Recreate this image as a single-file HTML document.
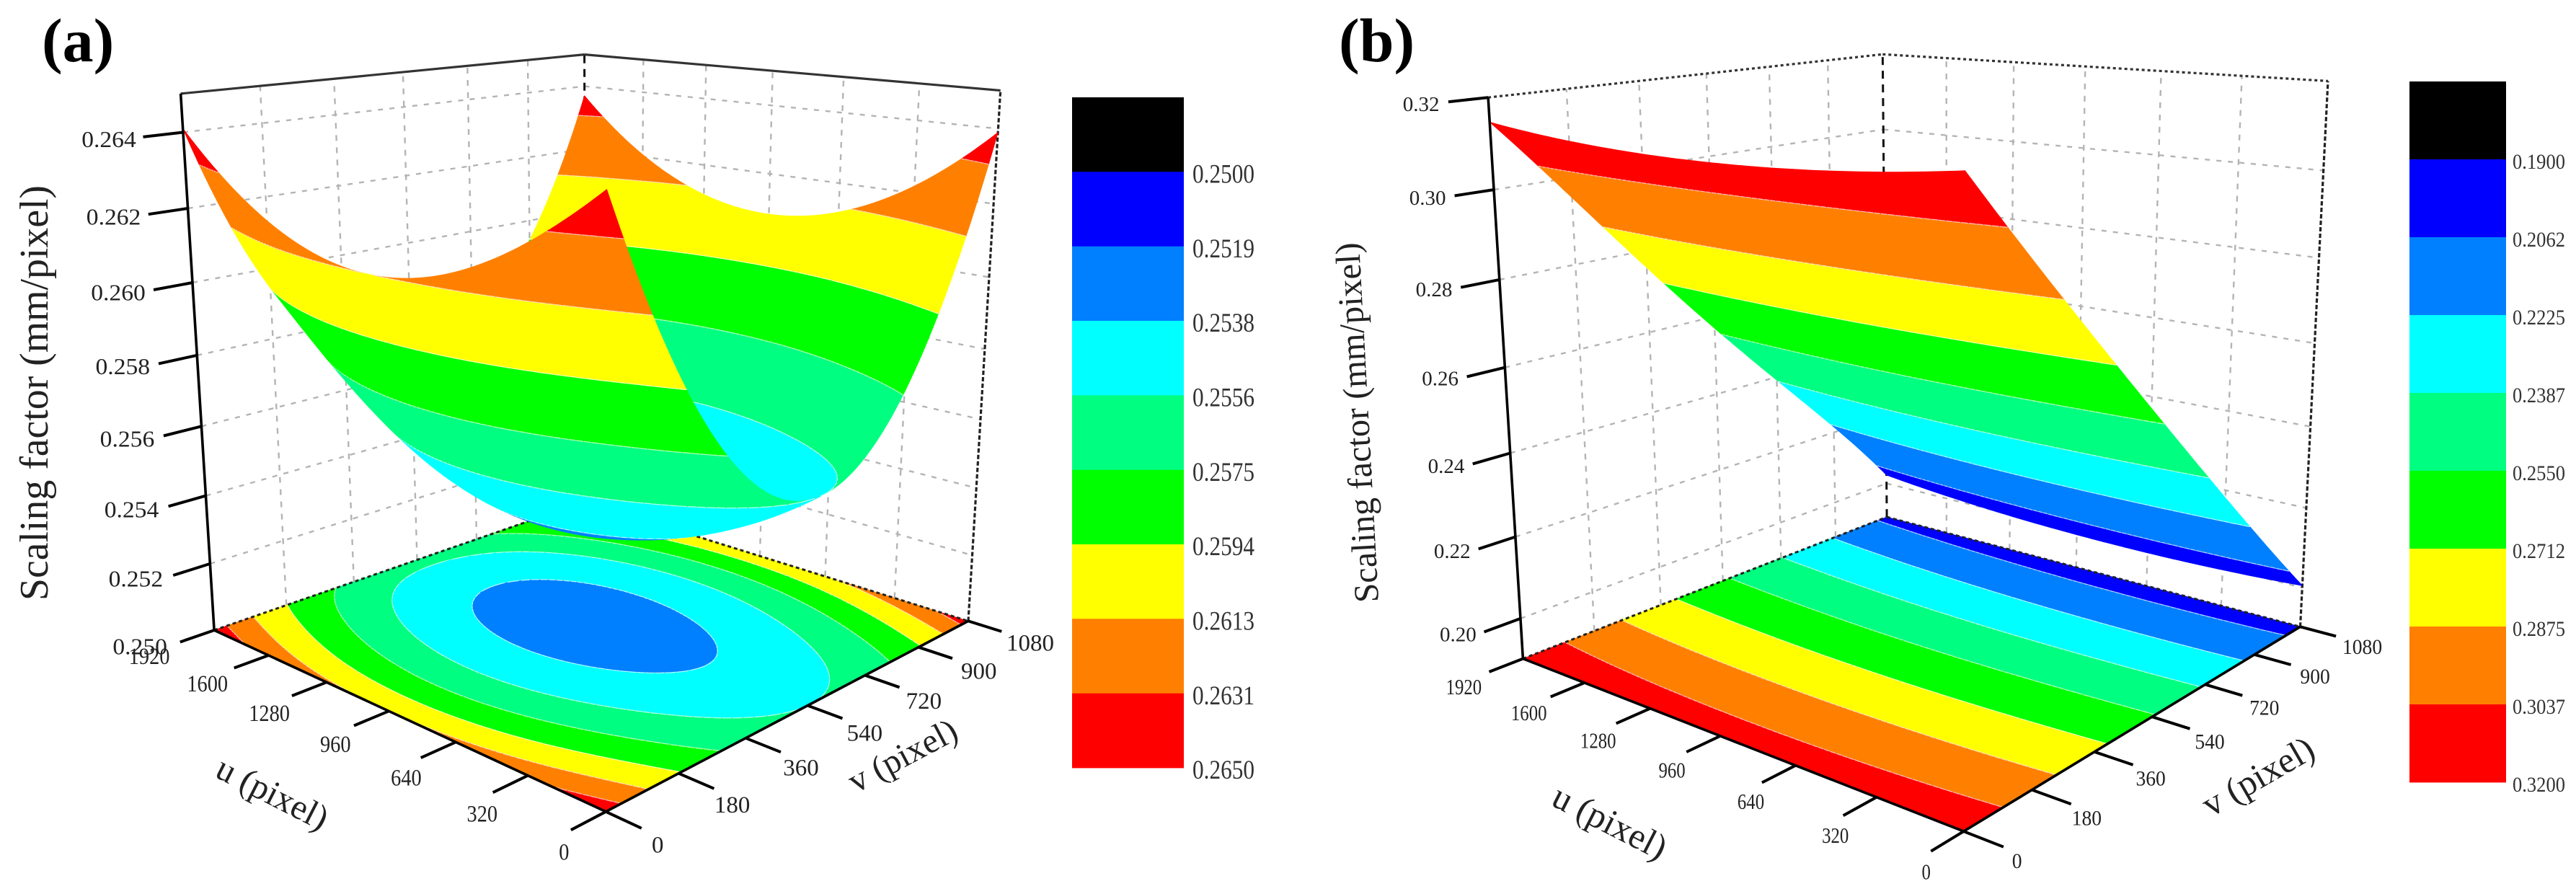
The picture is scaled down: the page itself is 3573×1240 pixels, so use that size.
<!DOCTYPE html>
<html lang="en">
<head>
<meta charset="utf-8">
<title>Scaling factor surfaces (a) and (b)</title>
<style>
html,body{margin:0;padding:0;background:#fff;}
svg{display:block;}
text{font-family:"Liberation Serif",serif;fill:#222;}
</style>
</head>
<body>
<svg id="figure" xmlns="http://www.w3.org/2000/svg" width="3573" height="1240" viewBox="0 0 3573 1240"></svg>
<script>
// ---- Chart data ----
const uTicks = [0, 320, 640, 960, 1280, 1600, 1920];
const vTicks = [0, 180, 360, 540, 720, 900, 1080];
const uNodes = [0, 480, 960, 1440, 1920];
const vNodes = [0, 270, 540, 810, 1080];

// Panel (a): scaling factor at each (u node, v node)
const surfaceA_u0    = [0.26420, 0.25786, 0.25560, 0.25761, 0.26390];
const surfaceA_u480  = [0.26212, 0.25580, 0.25370, 0.25560, 0.26160];
const surfaceA_u960  = [0.26130, 0.25490, 0.25300, 0.25480, 0.26080];
const surfaceA_u1440 = [0.26197, 0.25565, 0.25360, 0.25550, 0.26150];
const surfaceA_u1920 = [0.26410, 0.25800, 0.25630, 0.25800, 0.26370];
const zTicksA = [0.250, 0.252, 0.254, 0.256, 0.258, 0.260, 0.262, 0.264];
const levelsA = [0.2500, 0.2519, 0.2538, 0.2556, 0.2575, 0.2594, 0.2613, 0.2631, 0.2650];

// Panel (b): scaling factor at each (u node, v node)
const surfaceB_u0    = [0.3153, 0.2852, 0.2562, 0.2278, 0.2005];
const surfaceB_u480  = [0.3125, 0.2831, 0.2545, 0.2265, 0.1991];
const surfaceB_u960  = [0.3115, 0.2825, 0.2540, 0.2265, 0.1990];
const surfaceB_u1440 = [0.3122, 0.2833, 0.2549, 0.2278, 0.2001];
const surfaceB_u1920 = [0.3147, 0.2856, 0.2570, 0.2304, 0.2025];
const zTicksB = [0.20, 0.22, 0.24, 0.26, 0.28, 0.30, 0.32];
const levelsB = [0.1900, 0.2062, 0.2225, 0.2387, 0.2550, 0.2712, 0.2875, 0.3037, 0.3200];

const bandColors = ['#000000', '#0000ff', '#0080ff', '#00ffff', '#00ff80', '#00ff00', '#ffff00', '#ff8000', '#ff0000'];

// ---- Helpers ----
const NS = 'http://www.w3.org/2000/svg';
const root = document.getElementById('figure');

function mk(tag, attrs, parent) {
  const e = document.createElementNS(NS, tag);
  for (const k in attrs) e.setAttribute(k, attrs[k]);
  parent.appendChild(e);
  return e;
}

function makeText(parent, str, x, y, size, o) {
  o = o || {};
  const sx = o.sx || 1, sy = o.sy || 1, rot = o.rot || 0;
  const t = mk('text', {
    transform: 'translate(' + x + ',' + y + ') rotate(' + rot + ') scale(' + sx + ',' + sy + ')',
    'font-size': size,
    'text-anchor': o.anchor || 'middle',
    y: o.baseline ? 0 : (size * 0.33).toFixed(1)
  }, parent);
  if (o.bold) t.setAttribute('font-weight', 'bold');
  if (o.length) { t.setAttribute('textLength', o.length); t.setAttribute('lengthAdjust', 'spacingAndGlyphs'); }
  if (o.fill) t.style.fill = o.fill;
  t.textContent = str;
  return t;
}

function makeLine(parent, a, b, stroke, width, dash) {
  const l = mk('line', {
    x1: a[0].toFixed(1), y1: a[1].toFixed(1), x2: b[0].toFixed(1), y2: b[1].toFixed(1),
    stroke: stroke, 'stroke-width': width
  }, parent);
  if (dash) l.setAttribute('stroke-dasharray', dash);
  return l;
}

function solveCamera(c) {
  const pts = [[1,0,0,c.A],[0,0,0,c.F],[0,1,0,c.R],[1,1,0,c.B],[1,0,1,c.At],[1,1,1,c.Bt],[0,1,1,c.Rt]];
  const rows = [], rhs = [];
  pts.forEach(p => {
    const X = p[0], Y = p[1], Z = p[2], x = p[3][0] / 1000, y = p[3][1] / 1000;
    rows.push([X,Y,Z,1,0,0,0,0,-x*X,-x*Y,-x*Z]); rhs.push(x);
    rows.push([0,0,0,0,X,Y,Z,1,-y*X,-y*Y,-y*Z]); rhs.push(y);
  });
  const n = 11, M = [];
  for (let i = 0; i < n; i++) {
    M.push(new Array(n + 1).fill(0));
    for (let j = 0; j < n; j++) for (let r = 0; r < rows.length; r++) M[i][j] += rows[r][i] * rows[r][j];
    for (let r = 0; r < rows.length; r++) M[i][n] += rows[r][i] * rhs[r];
  }
  for (let i = 0; i < n; i++) {
    let piv = i;
    for (let r = i + 1; r < n; r++) if (Math.abs(M[r][i]) > Math.abs(M[piv][i])) piv = r;
    const tmp = M[i]; M[i] = M[piv]; M[piv] = tmp;
    for (let r = 0; r < n; r++) {
      if (r === i) continue;
      const f = M[r][i] / M[i][i];
      for (let j = i; j <= n; j++) M[r][j] -= f * M[i][j];
    }
  }
  const p = M.map((r, i) => r[n] / r[i]);
  return function (s, t, w) {
    const d = p[8]*s + p[9]*t + p[10]*w + 1;
    return [1000*(p[0]*s + p[1]*t + p[2]*w + p[3]) / d, 1000*(p[4]*s + p[5]*t + p[6]*w + p[7]) / d];
  };
}

function lagrange(nodes, x) {
  return nodes.map((ni, i) => {
    let w = 1;
    nodes.forEach((nj, j) => { if (j !== i) w *= (x - nj) / (ni - nj); });
    return w;
  });
}

function surfaceValue(rows, u, v) {
  const wu = lagrange(uNodes, u), wv = lagrange(vNodes, v);
  let z = 0;
  for (let i = 0; i < uNodes.length; i++)
    for (let j = 0; j < vNodes.length; j++) z += wu[i] * wv[j] * rows[i][j];
  return z;
}

function bandOf(z, levels) {
  let k = 0;
  while (k < levels.length && levels[k] <= z) k++;
  return Math.min(k, bandColors.length - 1);
}

function clipAbove(poly, lev, keepAbove) {
  const out = [];
  for (let i = 0; i < poly.length; i++) {
    const a = poly[i], b = poly[(i + 1) % poly.length];
    const ain = keepAbove ? a[2] >= lev : a[2] <= lev;
    const bin = keepAbove ? b[2] >= lev : b[2] <= lev;
    if (ain) out.push(a);
    if (ain !== bin) {
      const f = (lev - a[2]) / (b[2] - a[2]);
      out.push([a[0] + f*(b[0]-a[0]), a[1] + f*(b[1]-a[1]), lev]);
    }
  }
  return out;
}

function polyPath(poly) {
  let s = '';
  poly.forEach((p, i) => { s += (i ? 'L' : 'M') + p[0].toFixed(1) + ' ' + p[1].toFixed(1); });
  return s + 'Z';
}

function drawContourCells(parent, proj, rows, levels, zMin, zMax, flat, prefix) {
  const N = 80, P = [];
  for (let i = 0; i <= N; i++) {
    P.push([]);
    for (let j = 0; j <= N; j++) {
      const s = i / N, t = j / N;
      const z = surfaceValue(rows, s * 1920, t * 1080);
      const q = proj(s, t, flat ? 0 : (z - zMin) / (zMax - zMin));
      P[i].push([q[0], q[1], z]);
    }
  }
  let curBand = -1, curD = '', lines = '';
  function flush() {
    if (curBand < 0 || !curD) return;
    const cell = mk('path', {
      d: curD, fill: bandColors[curBand], stroke: bandColors[curBand],
      'stroke-width': 0.8, 'stroke-linejoin': 'round'
    }, parent);
    
    
    curD = '';
  }
  function push(band, poly) {
    if (band !== curBand) { flush(); curBand = band; }
    curD += polyPath(poly);
  }
  function triangle(tri) {
    const zs = tri.map(p => p[2]);
    const lo = bandOf(Math.min.apply(null, zs), levels), hi = bandOf(Math.max.apply(null, zs), levels);
    for (let k = lo; k <= hi; k++) {
      let poly = tri;
      if (k > 0) poly = clipAbove(poly, levels[k - 1], true);
      if (k < bandColors.length - 1 && poly.length) poly = clipAbove(poly, levels[k], false);
      if (poly.length >= 3) push(k, poly);
      if (k < hi) {
        const lev = levels[k], seg = [];
        for (let e = 0; e < 3; e++) {
          const a = tri[e], b = tri[(e + 1) % 3];
          if ((a[2] < lev) !== (b[2] < lev)) {
            const f = (lev - a[2]) / (b[2] - a[2]);
            seg.push([a[0] + f*(b[0]-a[0]), a[1] + f*(b[1]-a[1])]);
          }
        }
        if (seg.length === 2) lines += 'M' + seg[0][0].toFixed(1) + ' ' + seg[0][1].toFixed(1) + 'L' + seg[1][0].toFixed(1) + ' ' + seg[1][1].toFixed(1);
      }
    }
  }
  for (let i = N - 1; i >= 0; i--) {
    for (let j = N - 1; j >= 0; j--) {
      const a = P[i+1][j+1], b = P[i+1][j], c = P[i][j], d = P[i][j+1];
      const ba = bandOf(a[2], levels), bb = bandOf(b[2], levels), bc = bandOf(c[2], levels), bd = bandOf(d[2], levels);
      if (ba === bb && bb === bc && bc === bd) push(ba, [a, b, c, d]);
      else { triangle([a, b, c]); triangle([a, c, d]); }
    }
    flush();
    if (lines) {
      const iso = mk('path', { d: lines, fill: 'none', stroke: '#fff', 'stroke-width': 1.3, 'stroke-opacity': 0.7 }, parent);
      
      
      lines = '';
    }
  }
}

function renderPanel(cfg) {
  const g = mk('g', {}, root);
  
  
  const proj = solveCamera(cfg.frame);
  const W = z => (z - cfg.zMin) / (cfg.zMax - cfg.zMin);

  // wall grid
  const grid = mk('g', {}, g);
  
  
  const gc = '#b4b4b4';
  cfg.zTicks.forEach(z => {
    if (W(z) <= 0.001 || W(z) >= 0.999) return;
    const w = W(z);
    const h1 = makeLine(grid, proj(1, 0, w), proj(1, 1, w), gc, 2.4, '7 9');
    
    
    const h2 = makeLine(grid, proj(1, 1, w), proj(0, 1, w), gc, 2.4, '7 9');
    
    
  });
  vTicks.slice(1, -1).forEach(v => {
    const l = makeLine(grid, proj(1, v / 1080, 0), proj(1, v / 1080, 1), gc, 2.4, '8 9');
    
    
  });
  uTicks.slice(1, -1).forEach(u => {
    const l = makeLine(grid, proj(u / 1920, 1, 0), proj(u / 1920, 1, 1), gc, 2.4, '8 9');
    
    
  });

  // back frame
  const frameG = mk('g', {}, g);
  
  
  const topDash = cfg.topDash;
  const e1 = makeLine(frameG, proj(1, 0, 1), proj(1, 1, 1), '#333', 3.2, topDash);
  
  
  const e2 = makeLine(frameG, proj(1, 1, 1), proj(0, 1, 1), '#333', 3.2, topDash);
  
  
  const e3 = makeLine(frameG, proj(1, 1, 0), proj(1, 1, 1), '#111', 3, '11 8');
  
  
  const e4 = makeLine(frameG, proj(0, 1, 0), proj(0, 1, 1), '#222', 3.2, '6 3');
  
  

  // floor contour map
  const floor = mk('g', {}, g);
  
  
  drawContourCells(floor, proj, cfg.rows, cfg.levels, cfg.zMin, cfg.zMax, true, 'floor');

  const e5 = makeLine(frameG, proj(1, 0, 0), proj(1, 1, 0), '#222', 3, '5 4');
  
  
  const e6 = makeLine(frameG, proj(1, 1, 0), proj(0, 1, 0), '#222', 3, '5 4');
  
  
  g.appendChild(frameG);

  // surface
  const surf = mk('g', {}, g);
  
  
  drawContourCells(surf, proj, cfg.rows, cfg.levels, cfg.zMin, cfg.zMax, false, 'surface');

  // axes
  const ax = mk('g', {}, g);
  
  
  const a1 = makeLine(ax, proj(1, 0, 0), proj(1, 0, 1), '#000', 3.6);
  
  
  const a2 = makeLine(ax, proj(1, 0, 0), proj(0, 0, 0), '#000', 3.6);
  
  
  const a3 = makeLine(ax, proj(0, 0, 0), proj(0, 1, 0), '#000', 3.6);
  
  

  cfg.zTicks.forEach(z => {
    const w = W(z), f = (cfg.zMax - z) / (cfg.zMax - cfg.zMin);
    const r = proj(1, 0, w);
    if (z > cfg.zMin + 1e-9) {
      const tk = makeLine(ax, r, proj(1, -0.08, w), '#000', 4);
      
      
    }
    const lb = makeText(ax, z.toFixed(cfg.zDigits), r[0] + cfg.zDx + cfg.zDxF * f, r[1] + 9 + 14 * f, cfg.zFont, { sx: cfg.zSx });
    
    
  });
  uTicks.forEach(u => {
    const s = u / 1920, r = proj(s, 0, 0);
    const tk = makeLine(ax, r, proj(s, -0.075, 0), '#000', 4);
    
    
    const lb = makeText(ax, String(u), r[0] + cfg.uL[0] + cfg.uL[1] * s, r[1] + cfg.uL[2] + cfg.uL[3] * s, cfg.uFont, { sx: cfg.uSx });
    
    
  });
  vTicks.forEach(v => {
    const t = v / 1080, r = proj(0, t, 0);
    const tk = makeLine(ax, r, proj(-0.072, t, 0), '#000', 4);
    
    
    const lb = makeText(ax, String(v), r[0] + cfg.vL[0] + cfg.vL[1] * t, r[1] + cfg.vL[2] + cfg.vL[3] * t, cfg.vFont, { sx: cfg.vSx });
    
    
  });

  // titles
  const zt = makeText(ax, 'Scaling factor (mm/pixel)', cfg.zTitle[0], cfg.zTitle[1], cfg.zTitle[2], { rot: cfg.zTitle[4], anchor: 'start', baseline: true, length: cfg.zTitle[3] });
  
  
  const ut = makeText(ax, 'u (pixel)', cfg.uTitle[0], cfg.uTitle[1], cfg.uTitle[2], { rot: cfg.uTitle[3] });
  
  
  const vt = makeText(ax, 'v (pixel)', cfg.vTitle[0], cfg.vTitle[1], cfg.vTitle[2], { rot: cfg.vTitle[3] });
  
  
  const pl = makeText(g, cfg.label, cfg.labelPos[0], cfg.labelPos[1], 86, { anchor: 'start', baseline: true, bold: true, fill: '#000' });
  
  

  // colour legend
  const lg = mk('g', {}, g);
  
  
  const L = cfg.legend, h = (L.y1 - L.y0) / bandColors.length;
  bandColors.forEach((c, k) => {
    const sw = mk('rect', { x: L.x0, y: (L.y0 + k * h).toFixed(1), width: L.x1 - L.x0, height: (h + 0.4).toFixed(1), fill: c }, lg);
    
    
  });
  cfg.levels.forEach((lev, k) => {
    const lb = makeText(lg, lev.toFixed(4), L.tx, L.y0 + (k + 1) * h + 3, L.font, { anchor: 'start', sx: L.sx, fill: '#333' });
    
    
  });
}

renderPanel({
  id: 'panel-a', label: '(a)', labelPos: [58, 85],
  rows: [surfaceA_u0, surfaceA_u480, surfaceA_u960, surfaceA_u1440, surfaceA_u1920],
  levels: levelsA, zTicks: zTicksA, zMin: 0.25, zMax: 0.265, zDigits: 3,
  frame: { A: [297, 873], F: [840, 1127], R: [1343, 860], B: [812, 697], At: [251, 130], Bt: [810, 75], Rt: [1388, 126] },
  topDash: null,
  zDx: -103, zDxF: 0, zFont: 32, zSx: 1.05,
  uL: [-58, -32, 56, -20], uFont: 33, uSx: 0.86,
  vL: [72, 14, 46, -16], vFont: 33, vSx: 1,
  zTitle: [66, 833, 56, 576, -90],
  uTitle: [378, 1100, 49, 27],
  vTitle: [1252, 1048, 48, -28],
  legend: { x0: 1487, x1: 1642, y0: 135, y1: 1065, tx: 1654, font: 37, sx: 0.846 }
});

renderPanel({
  id: 'panel-b', label: '(b)', labelPos: [1857, 85],
  rows: [surfaceB_u0, surfaceB_u480, surfaceB_u960, surfaceB_u1440, surfaceB_u1920],
  levels: levelsB, zTicks: zTicksB, zMin: 0.19, zMax: 0.32, zDigits: 2,
  frame: { A: [2114, 913], F: [2723, 1154], R: [3192, 868], B: [2615, 718], At: [2063, 135], Bt: [2613, 75], Rt: [3228, 113] },
  topDash: '4 4',
  zDx: -93, zDxF: 7, zFont: 29, zSx: 1,
  uL: [-52, -30, 56, -17], uFont: 31, uSx: 0.8,
  vL: [74, 12, 41, -13], vFont: 30, vSx: 0.92,
  zTitle: [1912, 835, 48.5, 500, -93.1],
  uTitle: [2233, 1140, 50, 27],
  vTitle: [3132, 1077, 50, -30],
  legend: { x0: 3342, x1: 3476, y0: 113, y1: 1085, tx: 3485, font: 30, sx: 0.885 }
});
</script>
</body>
</html>
